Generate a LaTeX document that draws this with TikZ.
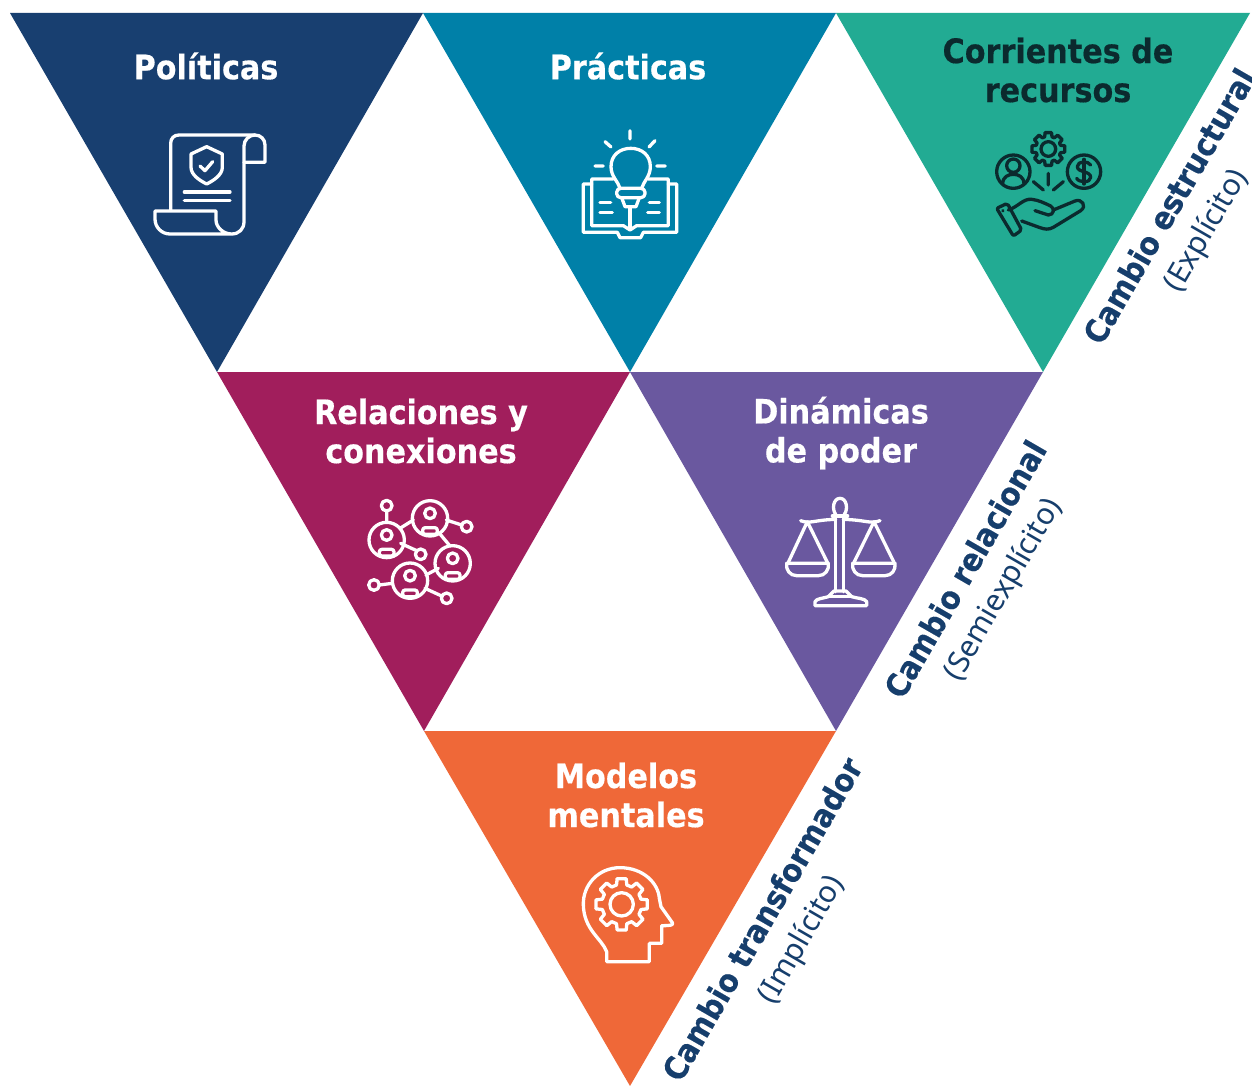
\documentclass[tikz,border=0pt]{standalone}
\usepackage{fontspec}
\setmainfont{Noto Sans}
\newfontfamily\boldfam[FakeBold=0.4]{DejaVu Sans Condensed Bold}
\definecolor{cnavy}{HTML}{183F70}
\definecolor{cblue}{HTML}{0080A8}
\definecolor{cgreen}{HTML}{22AB93}
\definecolor{cmag}{HTML}{A11E5C}
\definecolor{cpurp}{HTML}{6A589F}
\definecolor{corange}{HTML}{EF6838}
\definecolor{cdark}{HTML}{0B2A2E}
\definecolor{clab}{HTML}{163E6C}
\tikzset{
  tri/.style={draw=none},
  title/.style={font=\fontsize{33.6}{39}\selectfont\boldfam,align=center,inner sep=0pt,text=white},
  capb/.style={font=\fontsize{32}{38}\selectfont\boldfam,text=clab,inner sep=0pt,rotate=60},
  capl/.style={font=\fontsize{30}{36}\selectfont,text=clab,inner sep=0pt,rotate=60},
  ico/.style={line width=3.3pt,line cap=round,line join=round},
  zoomed/.style={x=0.33333pt,y=-0.33333pt}
}
\begin{document}
\begin{tikzpicture}[x=1pt,y=-1pt]
\useasboundingbox (0,0) rectangle (1252,1086);
\fill[white] (0,0) rectangle (1252,1086);
\fill[cnavy,tri] (10,13) -- (423,13) -- (217,372) -- cycle;
\fill[cblue,tri] (423,13) -- (836,13) -- (630,372) -- cycle;
\fill[cgreen,tri] (836,13) -- (1250,13) -- (1043,372) -- cycle;
\fill[cmag,tri] (217,372) -- (630,372) -- (424,731) -- cycle;
\fill[cpurp,tri] (630,372) -- (1043,372) -- (836,731) -- cycle;
\fill[corange,tri] (424,731) -- (836,731) -- (630,1086) -- cycle;

\node[title] (tpol) at (206,66) {Políticas};
\node[title] (tpra) at (628,66) {Prácticas};
\node[title,text=cdark] (tcor) at (1058,70) {Corrientes de\\recursos};
\node[title] (trel) at (421,431) {Relaciones y\\conexiones};
\node[title] (tdin) at (841,433) {Dinámicas\\de poder};
\node[title] (tmod) at (626,795) {Modelos\\mentales};

\node[capb] (c1) at (1169,206) {Cambio estructural};
\node[capl] (c1b) at (1207,231) {(Explícito)};
\node[capb] (c2) at (965,569) {Cambio relacional};
\node[capl] (c2b) at (1004,590) {(Semiexplícito)};
\node[capb] (c3) at (762,919) {Cambio transformador};
\node[capl] (c3b) at (802,940) {(Implícito)};

% scroll icon
\begin{scope}[shift={(130,110)},zoomed,ico,draw=white]
\draw (122,300) -- (122,100) .. controls (122,85) and (132,75) .. (147,75) -- (375,75) .. controls (392,75) and (405,88) .. (405,105) -- (405,157) -- (342,157);
\draw (375,75) .. controls (357,75) and (342,90) .. (342,108) -- (342,335) .. controls (342,357) and (327,372) .. (305,372) -- (120,372) .. controls (95,372) and (75,352) .. (75,327) -- (75,303) -- (258,303) -- (258,330) .. controls (258,352) and (280,372) .. (305,372);
\draw (230,110) -- (277,132) -- (277,172) .. controls (277,195) and (250,212) .. (230,222) .. controls (210,212) and (183,195) .. (183,172) -- (183,132) -- cycle;
\draw (210,168) -- (225,182) -- (248,155);
\draw (163,246) -- (300,246) (163,271) -- (300,271);
\end{scope}

% bulb and book icon
\begin{scope}[shift={(560,120)},zoomed,ico,draw=white]
\draw (210,32) -- (210,57) (135,65) -- (153,81) (285,62) -- (267,81) (105,138) -- (130,138) (290,138) -- (316,138);
\draw (180,205) .. controls (175,185) and (153,170) .. (153,140) .. controls (153,105) and (180,85) .. (212,85) .. controls (245,85) and (271,105) .. (271,140) .. controls (271,170) and (250,185) .. (245,205);
\draw[rounded corners=4pt] (170,205) rectangle (255,233);
\draw (185,233) -- (195,260) -- (228,260) -- (238,233);
\draw (210,260) -- (210,322);
\draw (160,177) -- (95,177) -- (95,317) -- (190,317) -- (210,330) -- (230,317) -- (325,317) -- (325,177) -- (265,177);
\draw (95,192) -- (70,192) -- (70,337) -- (172,337) -- (180,353) -- (242,353) -- (250,337) -- (350,337) -- (350,192) -- (325,192);
\draw (120,248) -- (152,248) (120,278) -- (157,278) (268,248) -- (298,248) (263,278) -- (298,278);
\end{scope}

% resources icon
\begin{scope}[shift={(980,120)},zoomed,ico,draw=cdark]
\draw (205,87) circle[radius=22];
\begin{scope}[shift={(205,87)}]
\foreach \a in {0,45,...,315}{
  \draw (\a-11:50) -- (\a+11:50) -- (\a+17:38) -- (\a+28:38) -- (\a+34:50);
}
\end{scope}
\draw (100,155) circle[radius=50];
\draw (100,137) circle[radius=20];
\draw (68,192) .. controls (68,170) and (85,163) .. (100,163) .. controls (115,163) and (132,170) .. (132,192);
\draw (312,155) circle[radius=50];
\draw (332,135) .. controls (325,122) and (292,122) .. (292,140) .. controls (292,158) and (332,152) .. (332,172) .. controls (332,190) and (296,188) .. (290,175);
\draw (312,118) -- (312,192);
\draw (205,160) -- (205,195) (160,185) -- (190,210) (250,185) -- (220,210);
\draw[rounded corners=2pt] (50,265) -- (82,250) -- (125,330) -- (100,348) -- cycle;
\draw (68,272) -- (69,273);
\draw (85,270) .. controls (115,260) and (130,235) .. (155,238) .. controls (175,240) and (195,250) .. (212,258) .. controls (225,265) and (222,285) .. (205,285) -- (165,272);
\draw (220,270) -- (285,243) .. controls (305,235) and (322,258) .. (302,272) -- (220,322) .. controls (205,330) and (195,328) .. (180,323) -- (125,303);
\end{scope}

% network icon
\begin{scope}[shift={(350,485)},zoomed,ico,draw=white]
\foreach \cx/\cy in {240/100,110/165,308/235,180/287}{
  \draw (\cx,\cy) circle[radius=53];
  \draw (\cx,\cy-15) circle[radius=16];
  \draw[rounded corners=2.5pt] (\cx-22,\cy+28) rectangle (\cx+22,\cy+48);
}
\foreach \cx/\cy in {110/62,350/125,212/208,72/300,290/340}{
  \draw (\cx,\cy) circle[radius=16];
}
\draw (110,78) -- (110,112) (289,105) -- (335,120) (150,130) -- (190,105) (270,147) -- (300,183) (152,175) -- (200,197) (228,270) -- (265,250) (88,300) -- (127,295) (225,310) -- (275,333);
\end{scope}

% scales icon
\begin{scope}[shift={(770,485)},zoomed,ico,draw=white]
\draw (197,88) .. controls (185,72) and (190,40) .. (210,40) .. controls (230,40) and (235,72) .. (223,88);
\draw (187,93) -- (233,93);
\draw (197,93) -- (197,320) (220,93) -- (220,320);
\draw (92,107) .. controls (120,118) and (130,105) .. (197,103) (220,103) .. controls (290,105) and (300,118) .. (330,107);
\draw (112,110) -- (55,232) (112,110) -- (172,232);
\draw (50,235) -- (175,235) .. controls (178,255) and (165,272) .. (145,272) -- (80,272) .. controls (60,272) and (47,255) .. (50,235) -- cycle;
\draw (312,110) -- (252,232) (312,110) -- (372,232);
\draw (248,235) -- (375,235) .. controls (378,255) and (365,272) .. (345,272) -- (278,272) .. controls (258,272) and (245,255) .. (248,235) -- cycle;
\draw (135,362) -- (290,362) -- (290,350) .. controls (285,340) and (260,340) .. (245,335) -- (228,318) -- (192,318) -- (175,335) .. controls (160,340) and (140,340) .. (135,350) -- cycle;
\draw (175,335) -- (245,335);
\end{scope}

% head icon
\begin{scope}[shift={(560,855)},zoomed,ico,draw=white]
\draw (140,320) -- (140,290) .. controls (125,250) and (72,225) .. (70,150) .. controls (68,90) and (115,38) .. (180,38) .. controls (250,38) and (295,85) .. (298,130) -- (303,155) -- (337,203) .. controls (340,210) and (335,212) .. (305,212) -- (305,265) -- (268,265) -- (268,320) -- cycle;
\draw (185,148) circle[radius=35];
\begin{scope}[shift={(185,148)}]
\foreach \a in {0,45,...,315}{
  \draw (\a-10:78) -- (\a+10:78) -- (\a+15:60) -- (\a+30:60) -- (\a+35:78);
}
\end{scope}
\end{scope}
\end{tikzpicture}
\end{document}
